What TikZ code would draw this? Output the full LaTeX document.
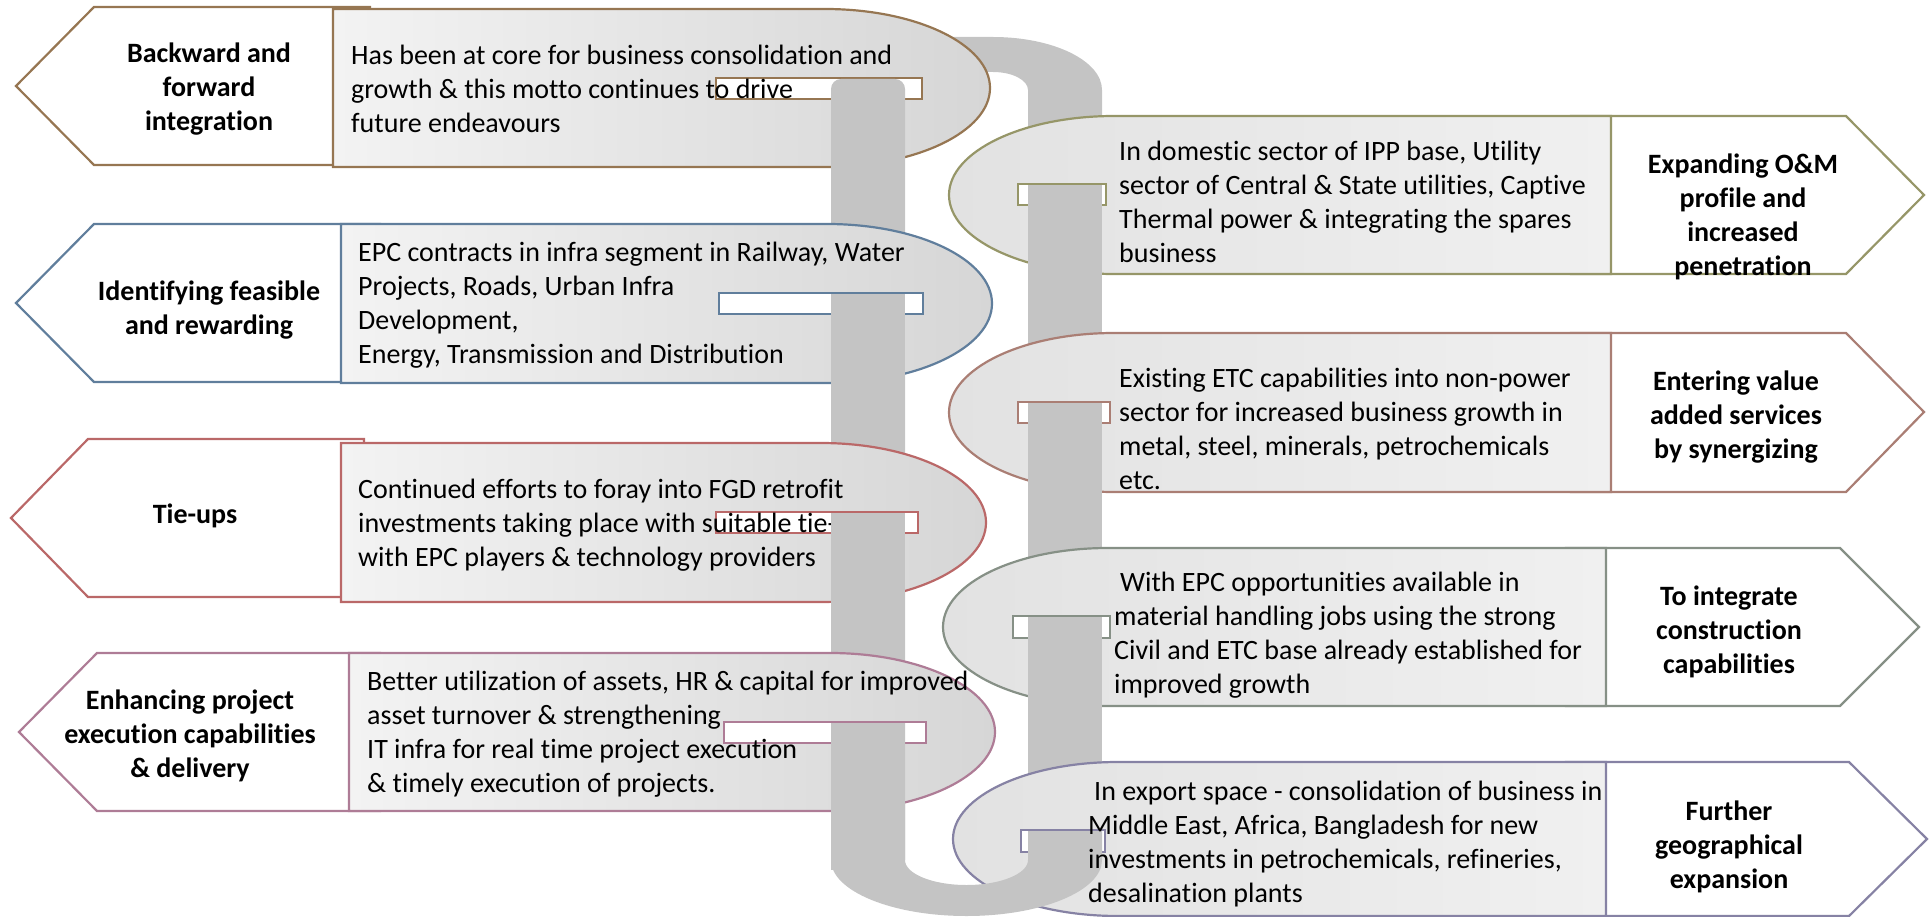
\documentclass[tikz,border=0pt]{standalone}
\usepackage{fontspec}
\setmainfont{Carlito}[RawFeature={-liga;-clig;-dlig}]
\definecolor{cA}{RGB}{150,118,82}
\definecolor{cB}{RGB}{96,126,156}
\definecolor{cC}{RGB}{186,104,104}
\definecolor{cD}{RGB}{174,124,150}
\definecolor{cE}{RGB}{150,150,104}
\definecolor{cF}{RGB}{170,126,116}
\definecolor{cG}{RGB}{134,144,134}
\definecolor{cH}{RGB}{134,130,164}
\definecolor{ribbon}{RGB}{196,196,196}
\definecolor{gLight}{RGB}{243,243,243}
\definecolor{gDark}{RGB}{214,214,214}
\definecolor{gMid}{RGB}{226,226,226}
\definecolor{gPale}{RGB}{240,240,240}
\tikzset{
  arrowbox/.style={fill=white, line width=2.2pt, line join=miter},
  lpill/.style={line width=2.2pt, left color=gLight, right color=gDark},
  rpill/.style={line width=2.2pt, left color=gMid, right color=gPale},
  slotbox/.style={fill=white, line width=2pt},
  band/.style={fill=ribbon, draw=none},
  lbl/.style={font=\fontsize{28}{34}\selectfont\bfseries, align=center, inner sep=0pt},
  txt/.style={font=\fontsize{28}{34}\selectfont, align=left, inner sep=0pt, anchor=west},
}
\begin{document}
\begin{tikzpicture}[x=1pt,y=-1pt]
\useasboundingbox (0,0) rectangle (1932,917);

% top part of the ribbon loop
\fill[band] (860,37) -- (993,37) arc[start angle=-90,end angle=0,x radius=109,y radius=53] -- (1102,175) -- (1028,175) -- (1028,90) arc[start angle=0,end angle=-90,x radius=35,y radius=18] -- (860,72) -- cycle;

% ---------- L1 ----------
\draw[arrowbox, draw=cA] (16,86) -- (94,7) -- (370,7) -- (370,165) -- (94,165) -- cycle;
\draw[lpill, draw=cA] (333,9) -- (825,9) arc[start angle=-90,end angle=90,x radius=165,y radius=79] -- (333,167) -- cycle;
\draw[slotbox, draw=cA] (716,78) rectangle (922,99);
\node[lbl] (l1) at (209,89) {Backward and\\forward\\integration};
\node[txt] (t1) at (351,89) {Has been at core for business consolidation and\\growth \& this motto continues to drive\\future endeavours};
\fill[band, rounded corners=10pt] (831,79) rectangle (905,870);

% ---------- R1 ----------
\draw[arrowbox, draw=cE] (1571,116) -- (1846,116) -- (1924,195) -- (1846,274) -- (1571,274) -- cycle;
\draw[rpill, draw=cE] (1611,116) -- (1114,116) arc[start angle=-90,end angle=-270,x radius=165,y radius=79] -- (1611,274) -- cycle;
\draw[slotbox, draw=cE] (1018,184) rectangle (1106,205);
\fill[band] (1028,185) rectangle (1102,870);
\node[lbl] (l5) at (1743,217) {Expanding O\&M\\profile and\\increased\\penetration};
\node[txt] (t5) at (1119,202) {In domestic sector of IPP base, Utility\\sector of Central \& State utilities, Captive\\Thermal power \& integrating the spares\\business};

% ---------- L2 ----------
\draw[arrowbox, draw=cB] (16,303) -- (94,224) -- (380,224) -- (380,382) -- (94,382) -- cycle;
\draw[lpill, draw=cB] (341,224) -- (827,224) arc[start angle=-90,end angle=90,x radius=165,y radius=79.5] -- (341,383) -- cycle;
\draw[slotbox, draw=cB] (719,293) rectangle (923,314);
\node[lbl] (l2) at (209,310) {Identifying feasible\\and rewarding};
\node[txt] (t2) at (358,305) {EPC contracts in infra segment in Railway, Water\\Projects, Roads, Urban Infra\\Development,\\Energy, Transmission and Distribution};
\fill[band] (831,294) rectangle (905,870);

% ---------- R2 ----------
\draw[arrowbox, draw=cF] (1571,333) -- (1846,333) -- (1924,412) -- (1846,492) -- (1571,492) -- cycle;
\draw[rpill, draw=cF] (1611,333) -- (1114,333) arc[start angle=-90,end angle=-270,x radius=165,y radius=79.5] -- (1611,492) -- cycle;
\draw[slotbox, draw=cF] (1018,402) rectangle (1110,423);
\fill[band] (1028,403) rectangle (1102,870);
\node[lbl] (l6) at (1736,417) {Entering value\\added services\\by synergizing};
\node[txt] (t6) at (1119,429) {Existing ETC capabilities into non-power\\sector for increased business growth in\\metal, steel, minerals, petrochemicals\\etc.};

% ---------- L3 ----------
\draw[arrowbox, draw=cC] (11,518) -- (88,439) -- (364,439) -- (364,597) -- (88,597) -- cycle;
\draw[lpill, draw=cC] (341,443) -- (821,443) arc[start angle=-90,end angle=90,x radius=165,y radius=79.5] -- (341,602) -- cycle;
\draw[slotbox, draw=cC] (716,512) rectangle (918,533);
\node[lbl] (l3) at (195,516) {Tie-ups};
\node[txt] (t3) at (358,525) {Continued efforts to foray into FGD retrofit\\investments taking place with suitable tie-\\with EPC players \& technology providers};
\fill[band] (831,513) rectangle (905,870);

% ---------- R3 ----------
\draw[arrowbox, draw=cG] (1566,548) -- (1840,548) -- (1919,627) -- (1840,706) -- (1566,706) -- cycle;
\draw[rpill, draw=cG] (1606,548) -- (1108,548) arc[start angle=-90,end angle=-270,x radius=165,y radius=79] -- (1606,706) -- cycle;
\draw[slotbox, draw=cG] (1013,616) rectangle (1110,638);
\fill[band] (1028,617) rectangle (1102,870);
\node[lbl] (l7) at (1729,632) {To integrate\\construction\\capabilities};
\node[txt] (t7) at (1114,635) {\hspace{6pt}With EPC opportunities available in\\material handling jobs using the strong\\Civil and ETC base already established for\\improved growth};

% ---------- L4 ----------
\draw[arrowbox, draw=cD] (19,732) -- (97,653) -- (380,653) -- (380,811) -- (97,811) -- cycle;
\draw[lpill, draw=cD] (349,653) -- (830,653) arc[start angle=-90,end angle=90,x radius=165,y radius=79] -- (349,811) -- cycle;
\draw[slotbox, draw=cD] (724,722) rectangle (926,743);
\node[lbl] (l4) at (190,736) {Enhancing project\\execution capabilities\\\& delivery};
\node[txt] (t4) at (367,734) {Better utilization of assets, HR \& capital for improved\\asset turnover \& strengthening\\IT infra for real time project execution\\\& timely execution of projects.};

% ---------- R4 ----------
\draw[arrowbox, draw=cH] (1566,762) -- (1849,762) -- (1927,839) -- (1849,916) -- (1566,916) -- cycle;
\draw[rpill, draw=cH] (1606,762) -- (1118,762) arc[start angle=-90,end angle=-270,x radius=165,y radius=77] -- (1606,916) -- cycle;
\draw[slotbox, draw=cH] (1021,830) rectangle (1105,852);
\node[lbl] (l8) at (1729,847) {Further\\geographical\\expansion};

% bottom U of the ribbon
\fill[band] (831,723) -- (831,860) arc[start angle=180,end angle=0,x radius=135.5,y radius=56] -- (1102,831) -- (1028,831) -- (1028,860) arc[start angle=0,end angle=180,x radius=61.5,y radius=25] -- (905,723) -- cycle;

\node[txt] (t8) at (1088,844) {\hspace{6pt}In export space - consolidation of business in\\Middle East, Africa, Bangladesh for new\\investments in petrochemicals, refineries,\\desalination plants};
\end{tikzpicture}
\end{document}
